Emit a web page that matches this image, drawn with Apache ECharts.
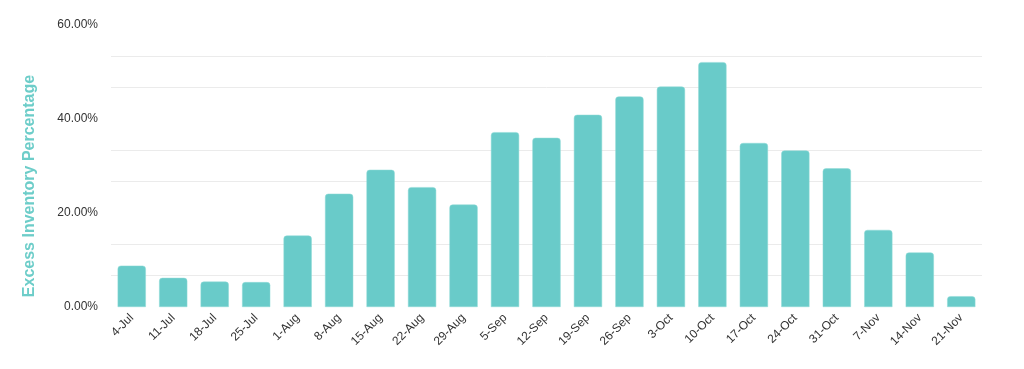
<!DOCTYPE html>
<html>
<head>
<meta charset="utf-8">
<script src="https://cdn.jsdelivr.net/npm/echarts@6/dist/echarts.min.js"></script>
<style>
html,body{margin:0;padding:0;background:#fff;}
#chart{width:1024px;height:369px;}
</style>
</head>
<body>
<div id="chart"></div>
<script>
const categories = ['4-Jul','11-Jul','18-Jul','25-Jul','1-Aug','8-Aug','15-Aug','22-Aug','29-Aug','5-Sep','12-Sep','19-Sep','26-Sep','3-Oct','10-Oct','17-Oct','24-Oct','31-Oct','7-Nov','14-Nov','21-Nov'];
const excessPct = [8.8,6.2,5.4,5.3,15.2,24.1,29.2,25.5,21.8,37.2,36.0,40.9,44.8,46.9,52.1,34.9,33.3,29.5,16.4,11.6,2.3];
const yTicks = [0,20,40,60];

const chart = echarts.init(document.getElementById('chart'));
chart.setOption({
  animation:false,
  grid:{left:111,right:42,top:25,bottom:62},
  xAxis:{
    type:'category',
    data:categories,
    axisLine:{show:false},
    axisTick:{show:false},
    axisLabel:{rotate:45,color:'#333',fontSize:12,fontFamily:'Arial, Liberation Sans, sans-serif',margin:9,interval:0}
  },
  yAxis:{
    type:'value',
    min:yTicks[0],max:yTicks[yTicks.length-1],interval:20,
    name:'Excess Inventory Percentage',
    nameLocation:'middle',
    nameGap:73,
    nameTextStyle:{color:'#6dcdc9',fontSize:16,fontWeight:'bold',fontFamily:'Arial, Liberation Sans, sans-serif',padding:[0,40,0,0]},
    axisLine:{show:false},
    axisTick:{show:false},
    splitLine:{show:false},
    minorTick:{show:false,splitNumber:3},
    minorSplitLine:{show:true,lineStyle:{color:'#ebebeb',width:1}},
    axisLabel:{color:'#333',fontSize:12,fontFamily:'Arial, Liberation Sans, sans-serif',margin:13,formatter:v=>v.toFixed(2)+'%'}
  },
  series:[{
    type:'bar',
    data:excessPct,
    barCategoryGap:'32%',
    itemStyle:{color:'#69cbc9',borderRadius:[3,3,0,0],borderColor:'#8fdad7',borderWidth:0.5}
  }]
});
</script>
</body>
</html>
